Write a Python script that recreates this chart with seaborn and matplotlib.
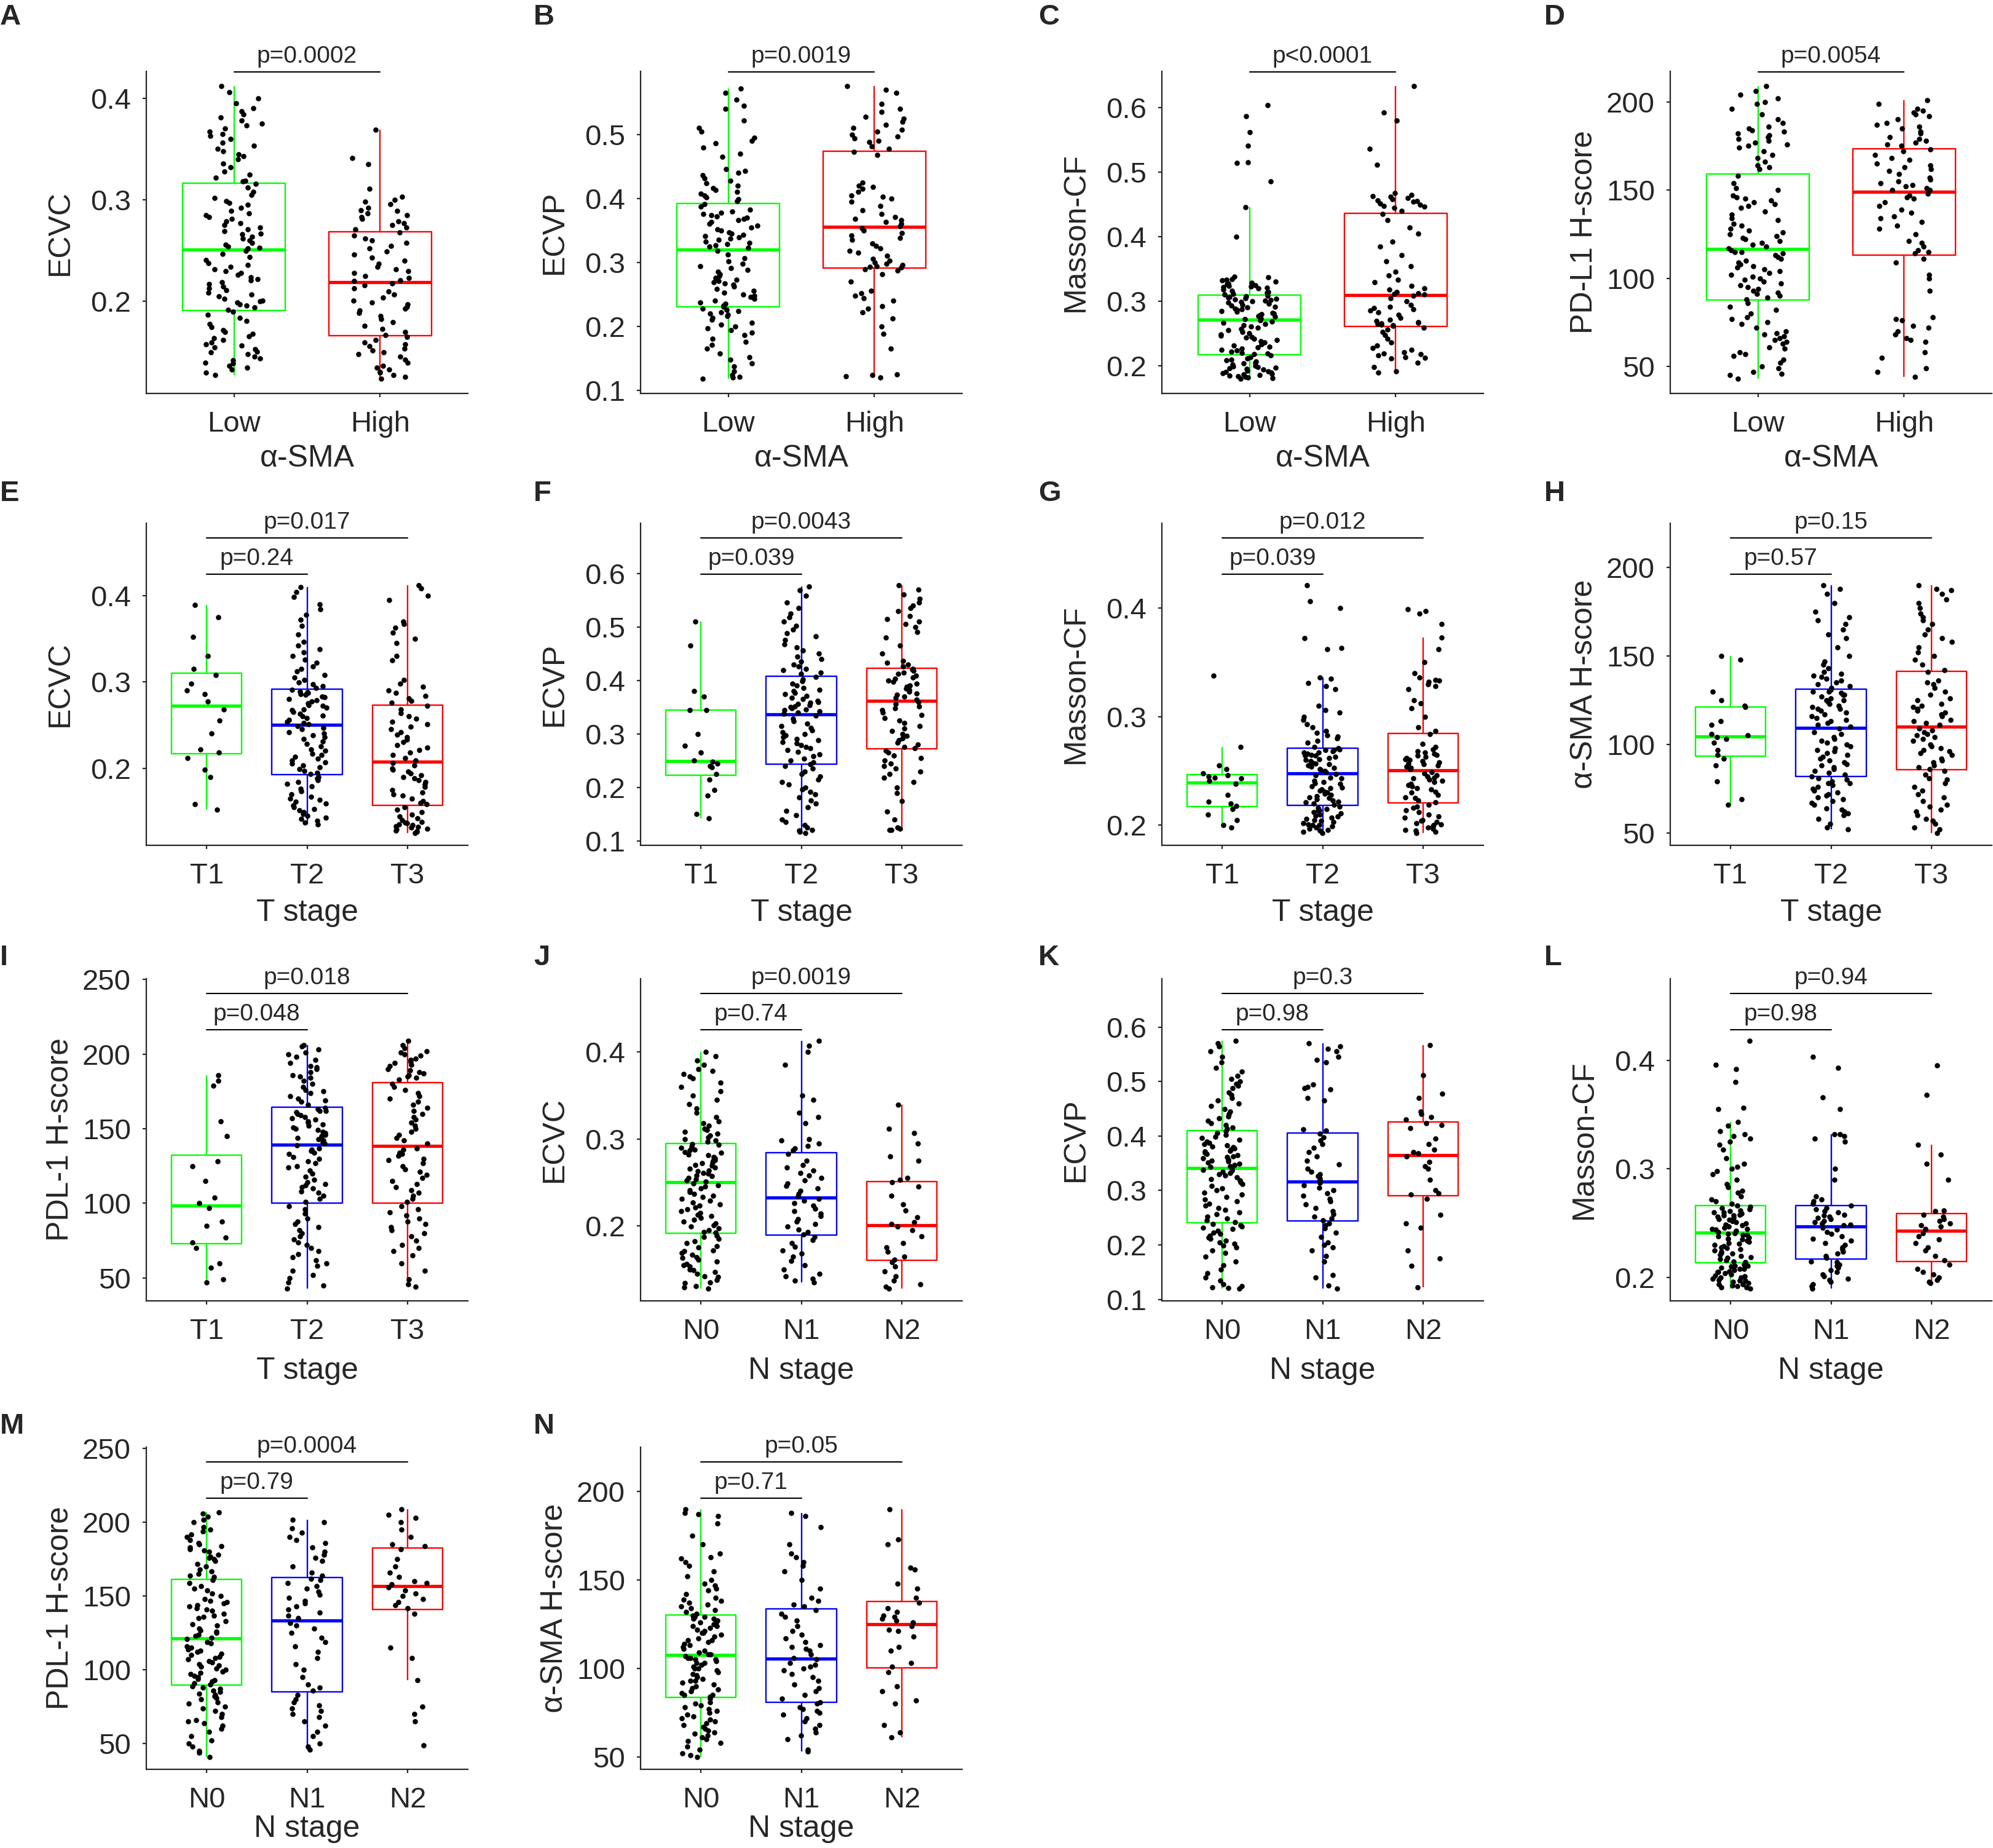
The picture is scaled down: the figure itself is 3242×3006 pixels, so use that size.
import numpy as np
import pandas as pd
import seaborn as sns
import matplotlib.pyplot as plt
from matplotlib.ticker import MultipleLocator

sns.set_style("ticks")
plt.rcParams['font.family'] = ['Liberation Sans', 'DejaVu Sans']

GREEN, BLUE, RED = "#00FF00", "#0000FF", "#FF0000"

sma_groups = ["Low", "High"]
t_groups = ["T1", "T2", "T3"]
n_groups = ["N0", "N1", "N2"]

# ECVC / ECVP / Masson-CF are kept x1000, H-scores as read off the picture
# --- A: ECVC by a-SMA
ecvc_lo = [128,130,133,135,137,139,140,142,144,146,148,150,151,153,155,157,158,160,162,164,166,168,170,172,175,178,181,184,187,190,
           192,194,196,197,199,200,201,203,205,207,209,211,213,215,217,219,221,222,224,226,228,230,232,234,236,238,241,244,247,250,
           252,253,254,256,258,260,262,264,266,267,269,271,273,275,277,279,281,283,285,287,289,292,295,297,299,302,305,308,312,316,
           318,319,322,325,328,332,336,340,343,345,348,350,353,356,360,363,365,367,370,373,375,378,381,384,387,390,395,400,406,412]
ecvc_hi = [124,126,128,130,131,133,135,137,140,143,146,148,150,152,154,156,158,160,162,165,
           167,170,173,176,180,183,186,189,191,193,195,197,199,201,204,207,210,213,216,218,
           220,221,223,225,228,230,232,234,237,240,243,246,249,252,255,258,260,262,265,268,
           271,273,275,277,279,281,283,285,287,289,290,292,296,298,300,303,311,335,341,369]
# --- B: ECVP by a-SMA
ecvp_lo = [118,120,121,124,130,137,142,148,152,158,165,171,176,181,186,190,194,197,200,203,206,210,213,216,218,220,222,224,226,228,
           231,233,235,237,240,243,246,248,250,253,256,259,262,265,267,269,271,273,276,279,282,285,288,291,294,298,302,307,312,318,
           323,325,327,329,331,333,335,337,339,341,343,345,347,350,352,355,358,360,363,366,368,370,372,374,376,378,380,383,387,391,
           396,399,402,405,408,410,413,416,420,424,428,432,436,440,443,446,465,470,480,486,490,495,505,510,522,540,545,555,565,572]
ecvp_hi = [120,122,124,125,165,188,200,212,222,228,232,240,244,248,252,256,270,282,287,289,
           292,293,294,296,298,300,303,306,310,315,318,322,326,330,335,338,342,346,350,354,
           357,360,363,366,368,371,376,382,388,395,400,403,405,410,415,418,420,425,468,473,
           478,482,488,490,494,497,500,505,508,510,515,520,525,528,535,540,548,565,570,576]
# --- C: Masson-CF by a-SMA
cf_lo = [180,181,182,183,184,185,186,187,188,189,190,191,192,193,194,195,196,197,198,199,200,202,204,205,207,209,210,212,214,216,
         218,219,220,222,224,225,227,229,230,232,234,236,238,240,242,244,245,247,249,251,253,255,257,259,261,263,265,267,269,271,
         273,274,276,277,278,280,281,282,284,285,287,288,289,291,292,294,295,296,298,299,300,301,302,303,304,305,306,307,308,309,
         311,312,314,315,316,318,320,321,322,323,324,325,327,328,329,331,333,334,335,337,338,400,446,486,515,516,541,562,587,604]
cf_hi = [190,192,198,205,212,213,214,216,218,219,221,225,228,232,236,242,248,253,256,259,
         262,263,264,265,266,267,268,270,272,275,279,283,286,288,290,292,295,300,305,309,
         311,312,313,315,318,320,324,330,334,340,346,355,362,372,385,393,405,415,426,436,
         440,445,447,448,450,452,455,456,457,458,460,462,463,465,468,512,537,580,593,634]
# --- D: PD-L1 H-score by a-SMA
pdl1_lo = [43,45,46,47,49,50,52,54,56,57,58,60,61,63,64,65,66,67,68,69,70,72,74,75,77,78,80,82,84,86,
           88,89,90,91,92,93,94,95,96,97,98,99,100,101,102,103,104,105,106,107,108,109,110,111,112,113,114,115,115,116,
           117,118,119,120,121,122,123,124,125,126,127,128,130,131,133,134,136,138,140,141,142,143,144,145,146,147,150,151,154,158,
           162,163,164,166,168,170,172,174,175,176,177,178,179,180,181,182,183,184,185,186,188,190,193,196,199,200,202,204,206,209]
pdl1_hi = [44,47,49,55,58,64,65,66,68,70,72,73,76,77,78,93,100,102,109,111,
           114,115,116,118,120,121,125,128,130,132,134,135,137,139,141,143,145,146,147,148,
           150,150,151,152,153,154,155,156,157,159,161,162,163,164,165,167,168,170,172,173,
           175,176,177,178,179,180,182,183,185,186,187,188,190,192,193,194,195,196,199,201]
# --- E: ECVC by T stage
ecvc_t1 = [152,158,190,198,212,218,222,240,255,268,277,286,290,298,308,315,330,352,375,389]
ecvc_t2 = [135,137,139,141,143,145,147,149,151,153,155,157,159,161,163,165,167,170,173,176,179,182,184,186,188,190,
           193,195,197,199,201,203,205,207,209,211,213,215,217,220,222,225,228,231,234,236,238,240,242,245,247,249,
           251,252,254,256,258,260,261,263,265,267,268,270,272,273,275,277,279,280,282,283,285,286,287,288,289,291,
           293,295,297,299,302,305,308,312,315,318,322,326,330,334,338,342,346,355,365,372,378,384,390,398,404,410]
ecvc_t3 = [125,126,127,128,129,130,131,132,133,134,135,136,137,138,140,142,144,146,149,152,155,
           158,160,162,165,168,170,172,175,178,181,184,186,188,190,192,194,196,198,200,203,206,
           209,212,215,218,221,224,227,230,233,236,239,242,245,248,251,254,257,260,264,268,272,
           276,278,281,284,287,290,294,298,302,325,330,345,350,357,363,367,370,395,400,408,412]
# --- F: ECVP by T stage
ecvp_t1 = [142,150,185,195,215,225,238,240,245,248,250,265,278,300,344,345,370,380,465,510]
ecvp_t2 = [115,117,119,121,125,130,136,140,148,156,163,170,176,182,187,192,196,200,205,210,215,220,225,230,235,240,
           244,247,250,254,258,262,266,270,273,276,279,282,285,288,291,294,297,300,303,307,311,315,319,324,329,334,
           338,340,342,344,346,348,350,352,354,356,358,360,362,365,368,371,374,377,380,383,386,390,394,398,402,407,
           412,415,419,422,426,430,435,440,445,450,456,462,468,475,482,488,495,502,510,518,525,535,545,558,568,575]
ecvp_t3 = [120,121,123,125,140,155,175,190,200,210,218,225,230,235,240,245,250,255,260,265,269,
           273,276,280,284,288,292,296,300,305,310,315,320,325,330,335,340,344,348,352,356,360,
           364,367,370,373,376,379,382,385,388,391,394,397,400,403,406,409,412,415,418,420,422,
           426,430,433,436,450,465,480,490,500,505,510,515,520,530,535,540,545,552,560,570,578]
# --- G: Masson-CF by T stage
cf_t1 = [198,200,205,210,215,218,220,222,228,238,241,243,244,245,246,248,252,255,272,338]
cf_t2 = [193,194,195,196,197,198,199,200,200,201,202,203,204,205,206,207,208,209,210,211,212,213,214,215,216,217,
         219,220,221,222,223,224,225,226,227,228,229,230,231,232,233,234,235,236,238,239,240,241,243,244,246,247,
         249,250,251,252,253,254,255,256,257,258,259,260,261,262,263,264,264,265,266,267,267,268,269,269,270,271,
         272,276,278,280,282,283,285,287,290,293,297,300,304,306,310,325,328,331,335,336,362,363,372,400,406,421]
cf_t3 = [193,194,195,196,197,198,199,200,201,202,203,204,205,207,208,210,212,214,216,217,219,
         221,223,225,226,228,230,231,233,234,236,237,238,240,241,242,243,244,245,246,248,249,
         252,253,254,255,256,257,258,259,260,261,262,263,264,265,266,267,268,270,272,275,284,
         287,290,300,308,312,315,325,328,330,332,333,334,336,340,350,362,373,385,395,397,399]
# --- H: a-SMA H-score by T stage
sma_t1 = [66,69,79,88,92,94,97,101,103,104,105,106,111,113,121,122,125,130,148,150]
sma_t2 = [52,53,55,58,60,61,62,63,64,66,67,68,69,70,71,72,73,74,75,76,77,78,78,79,80,81,
          82,83,84,85,86,87,88,89,90,91,92,93,94,95,96,97,98,99,100,101,102,103,104,106,107,109,
          110,111,112,113,114,115,116,117,118,119,120,120,121,122,123,124,125,125,126,127,128,128,129,130,130,131,
          132,133,134,135,136,137,138,139,140,141,143,145,147,150,155,160,162,165,168,170,172,175,180,185,188,190]
sma_t3 = [50,52,53,55,57,58,60,62,63,65,66,68,70,72,74,76,78,80,81,83,85,
          86,87,88,90,91,92,94,95,96,97,98,99,100,102,103,104,105,106,107,108,109,
          111,112,113,114,116,117,118,119,120,121,122,123,125,126,128,130,132,134,135,136,141,
          142,145,148,150,152,155,158,160,162,165,168,170,172,174,177,180,182,185,187,188,190]
# --- I: PDL-1 H-score by T stage
pdl1_t1 = [47,49,57,60,70,74,77,85,88,97,100,104,115,125,128,145,155,179,182,186]
pdl1_t2 = [43,45,47,50,52,55,58,60,62,64,66,68,70,72,74,76,78,80,82,84,86,88,90,93,96,98,
           101,103,105,107,108,110,111,112,113,114,116,118,120,122,124,125,127,128,130,131,133,134,135,136,137,139,
           140,141,142,143,144,145,146,147,148,149,150,151,152,153,154,155,156,157,158,159,160,161,162,162,163,164,
           166,168,169,170,172,174,175,176,178,180,182,184,185,186,188,190,191,192,194,196,198,200,201,203,205,206]
pdl1_t3 = [44,46,49,55,60,65,68,70,72,75,78,80,82,84,86,88,90,92,94,96,98,
           101,103,105,107,109,111,113,115,117,119,121,123,125,127,129,130,132,133,134,136,137,
           140,142,144,146,148,150,152,154,156,158,160,162,164,166,168,170,172,174,176,178,180,
           183,184,185,186,187,188,189,190,192,193,194,195,196,197,199,200,201,202,204,206,209]
# --- J: ECVC by N stage
ecvc_n0 = [128,129,131,134,135,138,141,142,145,147,149,150,153,155,156,159,161,163,164,167,169,171,172,175,177,180,182,185,187,189,
           192,193,195,197,199,201,203,205,207,209,211,213,215,217,219,221,223,225,227,229,231,233,235,237,239,241,243,245,247,249,
           251,252,254,255,257,258,260,261,263,264,266,267,269,270,272,273,275,276,278,279,281,282,284,285,287,288,290,291,293,294,
           297,298,300,302,304,306,308,310,312,315,318,320,325,330,335,340,345,350,355,360,365,370,372,375,378,380,385,390,395,400]
ecvc_n1 = [135,137,139,142,145,150,155,160,165,168,172,176,180,184,187,
           190,193,196,199,202,205,208,211,214,217,220,223,226,229,231,
           234,237,240,243,246,249,252,255,258,261,264,267,270,275,283,
           287,289,292,295,298,300,318,325,330,345,350,385,400,407,413]
ecvc_n2 = [128,130,133,137,142,148,153,158, 161,165,170,175,180,188,195,199,
           202,204,210,218,225,235,245,250, 253,255,275,280,295,307,312,339]
# --- K: ECVP by N stage
ecvp_n0 = [120,121,122,124,128,135,140,148,155,163,170,178,185,190,195,199,202,205,208,211,214,217,220,223,226,229,232,234,236,238,
           242,245,248,252,256,260,264,268,272,276,280,284,288,292,296,300,304,308,312,315,318,321,324,327,330,332,334,336,338,340,
           343,345,347,349,351,353,355,357,359,361,363,365,367,369,371,373,375,377,379,381,383,385,387,390,393,396,399,402,405,409,
           413,416,420,424,428,432,436,440,445,450,455,460,465,470,475,480,488,492,496,500,505,510,518,525,535,545,555,565,570,575]
ecvp_n1 = [120,125,140,145,170,180,190,196,200,205,215,222,230,236,240,
           245,248,252,256,262,268,274,280,285,290,295,300,305,310,314,
           318,322,326,330,334,340,348,355,362,370,378,385,392,398,404,
           410,412,465,470,485,488,490,495,535,540,545,555,560,565,570]
ecvp_n2 = [122,162,175,190,232,240,255,285, 292,295,300,320,340,345,352,362,
           368,370,375,385,395,415,420,424, 430,435,440,445,470,478,512,567]
# --- L: Masson-CF by N stage
cf_n0 = [190,191,191,192,193,194,194,195,196,197,197,198,199,200,200,201,202,203,204,205,205,206,207,208,208,209,210,211,211,212,
         214,215,216,217,218,219,220,221,222,223,224,225,226,227,228,229,230,231,232,233,234,235,236,236,237,238,239,239,240,241,
         242,243,244,245,245,246,247,248,248,249,250,251,252,252,253,254,255,256,257,257,258,259,260,260,261,262,263,264,265,266,
         268,270,272,275,278,280,283,286,290,295,298,300,302,305,310,318,322,325,328,330,332,335,340,343,355,356,380,392,396,418]
cf_n1 = [190,192,194,196,198,199,201,203,205,207,209,211,212,214,215,
         218,220,222,224,226,228,230,232,234,236,238,240,242,244,246,
         248,249,250,251,252,254,255,256,257,258,260,261,263,264,266,
         268,270,272,275,290,300,325,328,330,332,332,355,366,393,403]
cf_n2 = [195,196,198,200,203,205,208,212, 216,220,225,228,232,235,238,241,
         245,247,248,250,252,254,256,258, 261,262,290,305,313,322,368,395]
# --- M: PDL-1 H-score by N stage
pdl1_n0 = [41,44,45,48,50,52,55,58,60,62,64,65,66,68,70,72,74,75,77,78,80,81,82,83,84,85,86,87,88,89,
           90,91,92,93,94,95,96,97,98,99,100,101,102,103,104,105,106,107,108,109,110,111,112,113,114,115,116,118,119,121,
           122,123,124,125,126,127,128,130,131,133,135,136,137,138,140,141,142,143,144,145,146,147,148,150,152,154,155,157,159,161,
           163,164,165,167,168,170,172,174,175,176,177,178,180,181,182,183,184,185,186,188,190,192,194,195,197,200,202,204,206,207]
pdl1_n1 = [46,48,50,55,58,62,65,68,70,72,74,76,78,80,83,
           86,88,90,95,100,104,108,112,116,119,122,125,128,130,132,
           135,137,139,141,143,145,147,149,151,153,155,157,159,161,162,
           164,166,170,174,176,178,180,183,186,188,190,193,196,200,202]
pdl1_n2 = [49,65,70,75,93,108,115,138, 142,144,146,148,150,152,154,156,
           158,159,160,163,166,170,175,182, 184,185,190,195,200,203,205,209]
# --- N: a-SMA H-score by N stage
sma_n0 = [50,51,52,54,56,58,59,60,61,62,63,64,65,66,67,68,69,70,71,72,73,74,75,76,77,78,79,80,81,83,
          84,85,85,86,87,88,89,90,91,92,93,93,94,95,96,97,98,99,100,100,101,102,103,103,104,105,105,106,106,107,
          108,108,109,110,111,112,113,114,115,116,116,117,118,119,120,120,121,122,123,124,124,125,126,126,127,128,128,129,129,130,
          131,132,133,134,135,136,137,138,139,140,142,144,145,147,148,150,152,155,158,160,162,163,165,170,175,182,186,187,188,190]
sma_n1 = [53,54,60,62,64,66,68,70,72,74,75,76,77,78,80,
          81,83,85,87,89,91,93,95,97,99,100,101,102,103,105,
          106,108,110,111,112,113,115,117,119,121,124,127,129,131,133,
          135,136,138,140,145,150,155,158,160,163,165,170,180,186,188]
sma_n2 = [61,64,68,80,82,87,90,98, 101,103,110,112,118,121,122,124,
          126,127,128,129,130,132,134,137, 140,145,148,156,157,170,173,190]

panels = [
    ("A", "ECVC", "α-SMA", sma_groups, [ecvc_lo, ecvc_hi], 0.001, 0.1, ["p=0.0002"]),
    ("B", "ECVP", "α-SMA", sma_groups, [ecvp_lo, ecvp_hi], 0.001, 0.1, ["p=0.0019"]),
    ("C", "Masson-CF", "α-SMA", sma_groups, [cf_lo, cf_hi], 0.001, 0.1, ["p<0.0001"]),
    ("D", "PD-L1 H-score", "α-SMA", sma_groups, [pdl1_lo, pdl1_hi], 1, 50, ["p=0.0054"]),
    ("E", "ECVC", "T stage", t_groups, [ecvc_t1, ecvc_t2, ecvc_t3], 0.001, 0.1, ["p=0.24", "p=0.017"]),
    ("F", "ECVP", "T stage", t_groups, [ecvp_t1, ecvp_t2, ecvp_t3], 0.001, 0.1, ["p=0.039", "p=0.0043"]),
    ("G", "Masson-CF", "T stage", t_groups, [cf_t1, cf_t2, cf_t3], 0.001, 0.1, ["p=0.039", "p=0.012"]),
    ("H", "α-SMA H-score", "T stage", t_groups, [sma_t1, sma_t2, sma_t3], 1, 50, ["p=0.57", "p=0.15"]),
    ("I", "PDL-1 H-score", "T stage", t_groups, [pdl1_t1, pdl1_t2, pdl1_t3], 1, 50, ["p=0.048", "p=0.018"]),
    ("J", "ECVC", "N stage", n_groups, [ecvc_n0, ecvc_n1, ecvc_n2], 0.001, 0.1, ["p=0.74", "p=0.0019"]),
    ("K", "ECVP", "N stage", n_groups, [ecvp_n0, ecvp_n1, ecvp_n2], 0.001, 0.1, ["p=0.98", "p=0.3"]),
    ("L", "Masson-CF", "N stage", n_groups, [cf_n0, cf_n1, cf_n2], 0.001, 0.1, ["p=0.98", "p=0.94"]),
    ("M", "PDL-1 H-score", "N stage", n_groups, [pdl1_n0, pdl1_n1, pdl1_n2], 1, 50, ["p=0.79", "p=0.0004"]),
    ("N", "α-SMA H-score", "N stage", n_groups, [sma_n0, sma_n1, sma_n2], 1, 50, ["p=0.71", "p=0.05"]),
]

W, H = 3242, 3006
fig = plt.figure(figsize=(W / 200, H / 200), dpi=200)
col_left = [238, 1042, 1890, 2717]
row_top = [116, 851, 1592, 2354]
xlab_off = [106, 110, 114, 97]
tag_x = [0, 868, 1689, 2512]
tag_y = [28, 803, 1558, 2320]
aw, ah = 523, 524

np.random.seed(11)
for i, (tag, ylab, xlab, groups, vals, scale, step, pvals) in enumerate(panels):
    r, c = divmod(i, 4)
    ax = fig.add_axes([col_left[c] / W, 1 - (row_top[r] + ah) / H, aw / W, ah / H])
    vals = [np.asarray(v, dtype=float) * scale for v in vals]
    df = pd.DataFrame({"grp": np.repeat(groups, [len(v) for v in vals]),
                       "val": np.concatenate(vals)})
    pal = [GREEN, RED] if len(groups) == 2 else [GREEN, BLUE, RED]

    sns.boxplot(data=df, x="grp", y="val", hue="grp", order=groups, hue_order=groups,
                palette=pal, fill=False, width=0.7, whis=1.5, showfliers=False,
                showcaps=False, linewidth=0.85, medianprops={"linewidth": 1.9},
                legend=False, ax=ax)
    sns.stripplot(data=df, x="grp", y="val", order=groups, color="black",
                  size=3.1, jitter=0.2, ax=ax)

    dmin = df["val"].min()
    dmax = df["val"].max()
    rng = dmax - dmin
    if len(groups) == 2:
        ax.set_ylim(dmin - 0.05 * rng, dmax + 0.05 * rng)
        brackets = [(0, 1, dmax + 0.047 * rng, pvals[0])]
    else:
        ax.set_ylim(dmin - 0.05 * rng, dmax + 0.25 * rng)
        brackets = [(0, 1, dmax + 0.045 * rng, pvals[0]),
                    (0, 2, dmax + 0.19 * rng, pvals[1])]
    for x0, x1, yb, txt in brackets:
        ax.plot([x0, x1], [yb, yb], color="black", lw=0.75, clip_on=False)
        ax.annotate(txt, xy=((x0 + x1) / 2, yb), xytext=(0, 2.5), textcoords="offset points",
                    ha="center", va="bottom", fontsize=14, annotation_clip=False)

    ax.set_xlim(-0.6, len(groups) - 0.4)
    ax.yaxis.set_major_locator(MultipleLocator(step))
    ax.set_ylabel(ylab, fontsize=18, va="center")
    ax.set_xlabel(xlab, fontsize=18, va="center")
    ax.yaxis.set_label_coords(-140 / aw, 0.5)
    ax.xaxis.set_label_coords(0.5, -xlab_off[r] / ah)
    ax.tick_params(labelsize=17, length=2, width=0.8)
    ax.tick_params(axis="x", pad=8)
    ax.tick_params(axis="y", pad=7)
    sns.despine(ax=ax)
    for s in ["left", "bottom"]:
        ax.spines[s].set_linewidth(0.8)

    fig.text(tag_x[c] / W, 1 - tag_y[r] / H, tag, fontsize=17, fontweight="bold",
             ha="left", va="center")

fig.savefig("out.png", dpi=200)
